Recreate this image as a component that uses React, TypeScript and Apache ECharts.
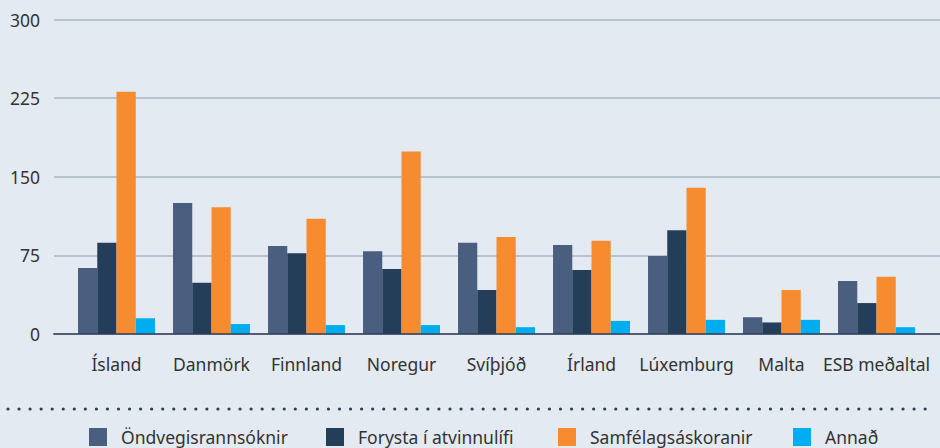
import React, { useEffect, useRef } from "react";
import * as echarts from "echarts";

const categories = ["Ísland", "Danmörk", "Finnland", "Noregur", "Svíþjóð", "Írland", "Lúxemburg", "Malta", "ESB meðaltal"];
const seriesNames = ["Öndvegisrannsóknir", "Forysta í atvinnulífi", "Samfélagsáskoranir", "Annað"];
const ondvegis = [63, 125, 84, 79, 87, 85, 74.5, 16, 50.5];
const forysta = [87, 49, 77, 62, 42, 61, 99, 11, 29.5];
const samfelag = [231, 121, 110, 174, 92.5, 89, 139.5, 42, 54.5];
const annad = [15, 9.5, 8.5, 8.5, 6.5, 12.5, 13.5, 13.5, 6.5];
const yTicks = [0, 75, 150, 225, 300];
const colors = ["#4a5e80", "#243e5a", "#f68b30", "#00aeef"];
const legendLefts = [89, 326, 558, 793];

const FONT = "'Noto Sans', sans-serif";
const FS = 17.5;

export default function App() {
  const ref = useRef<HTMLDivElement>(null);
  useEffect(() => {
    document.body.style.margin = "0";
    const chart = echarts.init(ref.current!, null, { renderer: "svg" });
    const values = [ondvegis, forysta, samfelag, annad];
    chart.setOption({
      animation: false,
      backgroundColor: "#e3eaf1",
      textStyle: { fontFamily: FONT },
      grid: [
        { left: 54, right: 0, top: 19.5, height: 314.5, containLabel: false },
        { left: 69, right: 16, top: 19.5, height: 314.5, containLabel: false },
      ],
      xAxis: [
        {
          gridIndex: 0,
          type: "value",
          min: 0,
          max: 1,
          axisLabel: { show: false },
          axisTick: { show: false },
          splitLine: { show: false },
          axisLine: { show: true, onZero: false, lineStyle: { color: "rgba(45,62,88,0.75)", width: 2 } },
          z: 10,
        },
        {
          gridIndex: 1,
          type: "category",
          data: categories,
          axisLine: { show: false },
          axisTick: { show: false },
          axisLabel: { color: "#333", fontSize: FS, margin: 21, interval: 0, fontFamily: FONT },
        },
      ],
      yAxis: [
        {
          gridIndex: 0,
          type: "value",
          min: yTicks[0],
          max: yTicks[yTicks.length - 1],
          interval: 75,
          axisLine: { show: false },
          axisTick: { show: false },
          axisLabel: { color: "#333", fontSize: FS, margin: 14, fontFamily: FONT },
          splitLine: { lineStyle: { color: "#aab3c4", width: 1.5 } },
        },
        {
          gridIndex: 1,
          type: "value",
          min: yTicks[0],
          max: yTicks[yTicks.length - 1],
          interval: 75,
          axisLine: { show: false },
          axisTick: { show: false },
          axisLabel: { show: false },
          splitLine: { show: false },
        },
      ],
      legend: seriesNames.map((name, i) => ({
        left: legendLefts[i],
        top: 428,
        padding: 0,
        itemWidth: 18,
        itemHeight: 18,
        icon: "rect",
        textStyle: { color: "#333", fontSize: FS, lineHeight: 18, fontFamily: FONT, padding: [0, 0, 0, 9] },
        data: [name],
      })),
      graphic: [
        {
          type: "line",
          shape: { x1: 8, y1: 409, x2: 928, y2: 409 },
          style: { stroke: "#2a3f5a", lineWidth: 3.2, lineCap: "round", lineDash: [0, 11.05] },
        },
      ],
      series: seriesNames.map((name, i) => ({
        name,
        type: "bar",
        xAxisIndex: 1,
        yAxisIndex: 1,
        data: values[i],
        itemStyle: { color: colors[i] },
        barGap: "0%",
        barCategoryGap: "19%",
      })),
    });
    return () => chart.dispose();
  }, []);
  return <div ref={ref} style={{ position: "fixed", left: 0, top: 0, width: 940, height: 448 }} />;
}
